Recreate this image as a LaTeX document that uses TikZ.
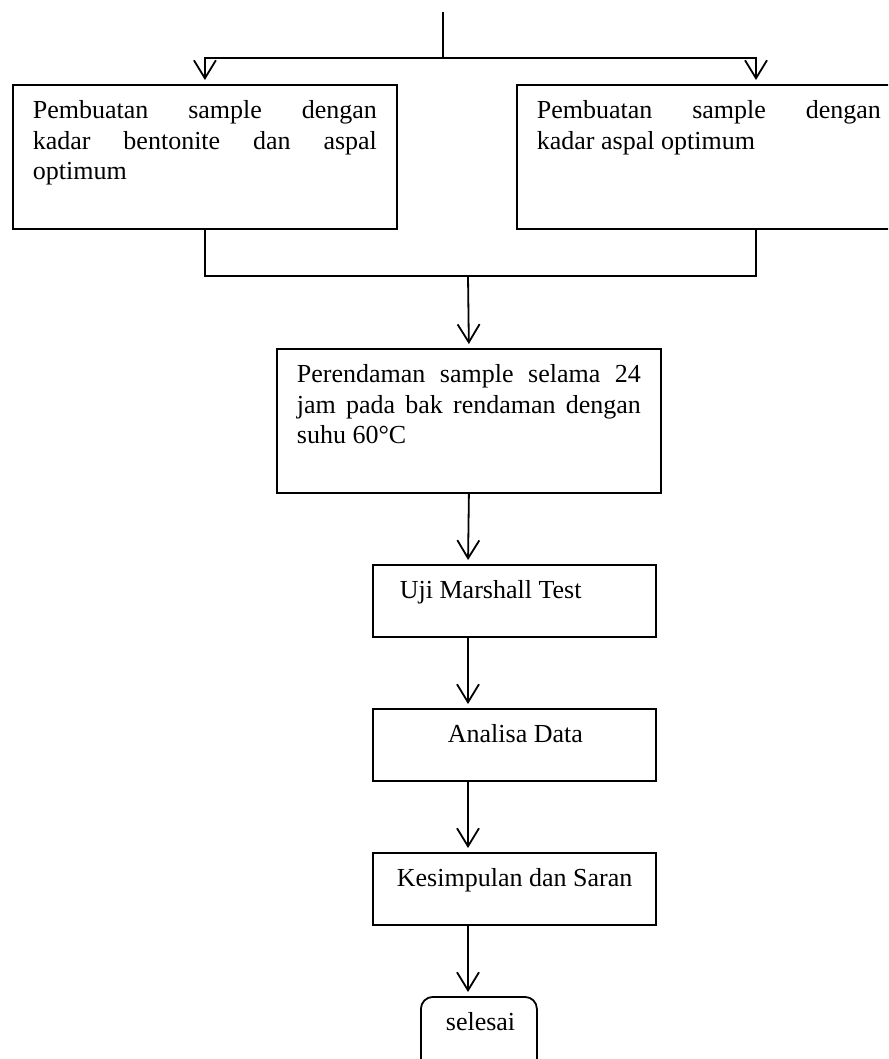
\documentclass[tikz,border=0pt]{standalone}
\usepackage{fontspec}
\setmainfont{Liberation Serif}
\usetikzlibrary{arrows.meta}
\usetikzlibrary{positioning}

\tikzset{
  stepbox/.style={draw, line width=1.8pt, inner xsep=20pt, inner ysep=0pt, anchor=north west},
  endbox/.style={stepbox, rounded corners=12pt},
  link/.style={line width=1.8pt},
  flow/.style={link, -{Straight Barb[length=18pt,width=22pt,line width=1.8pt]}, shorten >=4pt},
}

% text block: width, height, contents (first baseline 34pt under the top)
\newcommand{\boxtxt}[3]{\parbox[t][#2][t]{#1}{\tolerance=10000\hbadness=10000\hyphenpenalty=10000\rule{0pt}{34pt}#3}}

\begin{document}
\begin{tikzpicture}[x=1pt,y=-1pt,font=\fontsize{26pt}{30.5pt}\selectfont]

  \useasboundingbox (0,0) rectangle (888,1059);
  \clip (0,0) rectangle (888,1059);

  % upper boxes
  \node[stepbox] (bento) at (12,84)
    {\boxtxt{344pt}{144pt}{Pembuatan sample dengan\linebreak kadar bentonite dan aspal\linebreak optimum}};
  \node[stepbox] (aspal) at (516,84)
    {\boxtxt{344pt}{144pt}{Pembuatan sample dengan\linebreak kadar aspal optimum}};

  % soaking
  \node[stepbox] (rendam) at (276,348)
    {\boxtxt{344pt}{144pt}{Perendaman sample selama 24\linebreak jam pada bak rendaman dengan\linebreak suhu 60°C}};

  % lower steps
  \node[stepbox] (marshall) at (372,564) {\boxtxt{243pt}{72pt}{\hspace*{7pt}Uji Marshall Test}};
  \node[stepbox] (analisa) at (372,708) {\boxtxt{243pt}{72pt}{\hspace*{55pt}Analisa Data}};
  \node[stepbox] (simpul) at (372,852) {\boxtxt{243pt}{72pt}{\hspace*{4pt}Kesimpulan dan Saran}};
  \node[endbox] (selesai) at (420,996) {\boxtxt{76pt}{80pt}{\hspace*{5pt}selesai}};

  % split at the top
  \coordinate (start) at (443,12);
  \coordinate (split) at (443,58);
  \draw[link] (start) -- (split);
  \draw[flow] (split) -| (bento.north);
  \draw[flow] (split) -| ([xshift=240pt]aspal.north west);

  % join under the upper boxes
  \coordinate (join) at (468,276);
  \draw[link] (bento.south) |- (join);
  \draw[link] ([xshift=240pt]aspal.south west) |- (join);
  \draw[flow] (join) -- (rendam.north);

  % down the chain
  \draw[flow] (rendam.south) -- ([xshift=96pt]marshall.north west);
  \draw[flow] ([xshift=96pt]marshall.south west) -- ([xshift=96pt]analisa.north west);
  \draw[flow] ([xshift=96pt]analisa.south west) -- ([xshift=96pt]simpul.north west);
  \draw[flow] ([xshift=96pt]simpul.south west) -- ([xshift=48pt]selesai.north west);

\end{tikzpicture}
\end{document}
